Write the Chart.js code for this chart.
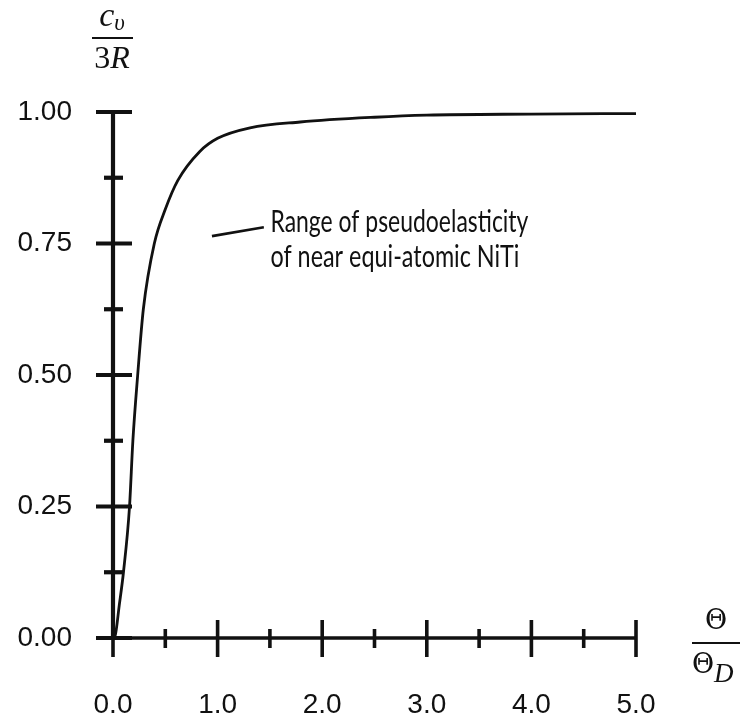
<!DOCTYPE html>
<html>
<head>
<meta charset="utf-8">
<script src="https://cdn.jsdelivr.net/npm/chart.js@4.4.1/dist/chart.umd.min.js"></script>
<style>
  html, body { margin: 0; padding: 0; background: #ffffff; }
  #wrap { width: 740px; height: 722px; }
</style>
</head>
<body>
<div id="wrap"><canvas id="c" width="740" height="722"></canvas></div>
<script>
// Values
const thetaRatio = [0, 0.02, 0.06, 0.10, 0.158, 0.19, 0.236, 0.29, 0.395, 0.5, 0.62, 0.83, 1.0, 1.31, 1.79, 2.5, 3.0, 4.0, 5.0];
const cvRatio    = [0, 0.004, 0.0625, 0.125, 0.25, 0.375, 0.50, 0.625, 0.75, 0.815, 0.87, 0.925, 0.95, 0.97, 0.981, 0.99, 0.994, 0.996, 0.997];
const xTickLabels = ['0.0', '1.0', '2.0', '3.0', '4.0', '5.0'];
const yTickLabels = ['0.00', '0.25', '0.50', '0.75', '1.00'];
const xMajor = [0, 1, 2, 3, 4, 5];
const xMinor = [0.5, 1.5, 2.5, 3.5, 4.5];
const yMajor = [0, 0.25, 0.5, 0.75, 1.0];
const yMinor = [0.125, 0.375, 0.625, 0.875];
const annotationLines = ['Range of pseudoelasticity', 'of near equi-atomic NiTi'];
const leader = [{x: 0.946, y: 0.764}, {x: 1.442, y: 0.781}];
const annotationAnchor = {x: 1.505, y: 0.79};

const points = thetaRatio.map((t, i) => ({x: t, y: cvRatio[i]}));

const ink = '#111111';

const axesPlugin = {
  id: 'axesPlugin',
  afterDraw(chart) {
    const ctx = chart.ctx;
    const xs = chart.scales.x, ys = chart.scales.y;
    const x0 = xs.getPixelForValue(0), x5 = xs.getPixelForValue(5);
    const y0 = ys.getPixelForValue(0), y1 = ys.getPixelForValue(1);
    ctx.save();
    ctx.strokeStyle = ink;
    ctx.lineCap = 'butt';
    // y axis
    ctx.lineWidth = 4.2;
    ctx.beginPath(); ctx.moveTo(x0, y1); ctx.lineTo(x0, y0); ctx.stroke();
    // x axis
    ctx.lineWidth = 3.6;
    ctx.beginPath(); ctx.moveTo(x0 - 17, y0); ctx.lineTo(x5, y0); ctx.stroke();
    // y ticks
    ctx.lineWidth = 4.2;
    yMajor.forEach(v => { const p = ys.getPixelForValue(v); ctx.beginPath(); ctx.moveTo(x0 - 17, p); ctx.lineTo(x0 + 19, p); ctx.stroke(); });
    yMinor.forEach(v => { const p = ys.getPixelForValue(v); ctx.beginPath(); ctx.moveTo(x0 - 9, p); ctx.lineTo(x0 + 10, p); ctx.stroke(); });
    // x ticks
    ctx.lineWidth = 3.6;
    xMajor.forEach(v => { const p = xs.getPixelForValue(v); ctx.beginPath(); ctx.moveTo(p, v === 0 ? y0 : y0 - 18); ctx.lineTo(p, y0 + 19); ctx.stroke(); });
    xMinor.forEach(v => { const p = xs.getPixelForValue(v); ctx.beginPath(); ctx.moveTo(p, y0 - 9); ctx.lineTo(p, y0 + 10); ctx.stroke(); });

    // leader line
    ctx.lineWidth = 2.6;
    ctx.beginPath();
    ctx.moveTo(xs.getPixelForValue(leader[0].x), ys.getPixelForValue(leader[0].y));
    ctx.lineTo(xs.getPixelForValue(leader[1].x), ys.getPixelForValue(leader[1].y));
    ctx.stroke();

    // annotation text
    ctx.fillStyle = ink;
    ctx.font = '31px Lato';
    ctx.textBaseline = 'alphabetic';
    ctx.textAlign = 'left';
    const ax = xs.getPixelForValue(annotationAnchor.x);
    const ay = ys.getPixelForValue(annotationAnchor.y);
    const targetW = [258, 249];
    annotationLines.forEach((s, i) => {
      const w = ctx.measureText(s).width;
      ctx.save();
      ctx.translate(ax, ay + 10 + i * 35);
      ctx.scale(targetW[i] / w, 1);
      ctx.fillText(s, 0, 0);
      ctx.restore();
    });

    // y axis title: c_v / 3R
    const cx = x0 - 1;
    ctx.textAlign = 'left';
    ctx.font = 'italic 34px "Liberation Serif"';
    const cw = ctx.measureText('c').width;
    ctx.font = 'italic 23px "Liberation Serif"';
    const vw = ctx.measureText('υ').width;
    let sx = cx - (cw + vw) / 2;
    ctx.font = 'italic 34px "Liberation Serif"';
    ctx.fillText('c', sx, 26);
    ctx.font = 'italic 23px "Liberation Serif"';
    ctx.fillText('υ', sx + cw, 30);
    ctx.lineWidth = 1.8;
    ctx.beginPath(); ctx.moveTo(cx - 20, 38); ctx.lineTo(cx + 21, 38); ctx.stroke();
    ctx.font = '32px "Liberation Serif"';
    const tw = ctx.measureText('3').width;
    ctx.font = 'italic 32px "Liberation Serif"';
    const rw = ctx.measureText('R').width;
    sx = cx - (tw + rw) / 2;
    ctx.font = '32px "Liberation Serif"';
    ctx.fillText('3', sx, 68);
    ctx.font = 'italic 32px "Liberation Serif"';
    ctx.fillText('R', sx + tw, 68);

    // x axis title: Θ / Θ_D
    ctx.font = '27px "DejaVu Serif"';
    ctx.textAlign = 'center';
    ctx.fillText('Θ', 716, 629);
    ctx.beginPath(); ctx.moveTo(692, 643); ctx.lineTo(742, 643); ctx.stroke();
    ctx.textAlign = 'left';
    ctx.fillText('Θ', 692, 673);
    ctx.font = 'italic 27px "Liberation Serif"';
    ctx.fillText('D', 714, 682);
    ctx.restore();
  }
};

new Chart(document.getElementById('c'), {
  type: 'line',
  data: {
    datasets: [{
      data: points,
      borderColor: ink,
      borderWidth: 2.8,
      pointRadius: 0,
      fill: false,
      cubicInterpolationMode: 'monotone',
      clip: false
    }]
  },
  options: {
    responsive: false,
    animation: false,
    events: [],
    layout: { padding: { left: 0, right: 104, top: 112, bottom: 0 } },
    plugins: { legend: { display: false }, tooltip: { enabled: false }, title: { display: false } },
    scales: {
      x: {
        type: 'linear', min: 0, max: 5,
        border: { display: false },
        grid: { display: false, drawTicks: false },
        afterFit(scale) { scale.height = 84; },
        afterBuildTicks(scale) { scale.ticks = xMajor.map(v => ({value: v})); },
        ticks: {
          padding: 50,
          color: ink,
          font: { family: '"Liberation Sans"', size: 28 },
          maxRotation: 0,
          callback: (v, i) => xTickLabels[i]
        }
      },
      y: {
        type: 'linear', min: 0, max: 1,
        border: { display: false },
        grid: { display: false, drawTicks: false },
        afterFit(scale) { scale.width = 113; },
        afterBuildTicks(scale) { scale.ticks = yMajor.map(v => ({value: v})); },
        ticks: {
          padding: 41,
          color: ink,
          font: { family: '"Liberation Sans"', size: 28 },
          callback: (v, i) => yTickLabels[i]
        }
      }
    }
  },
  plugins: [axesPlugin]
});
</script>
</body>
</html>
